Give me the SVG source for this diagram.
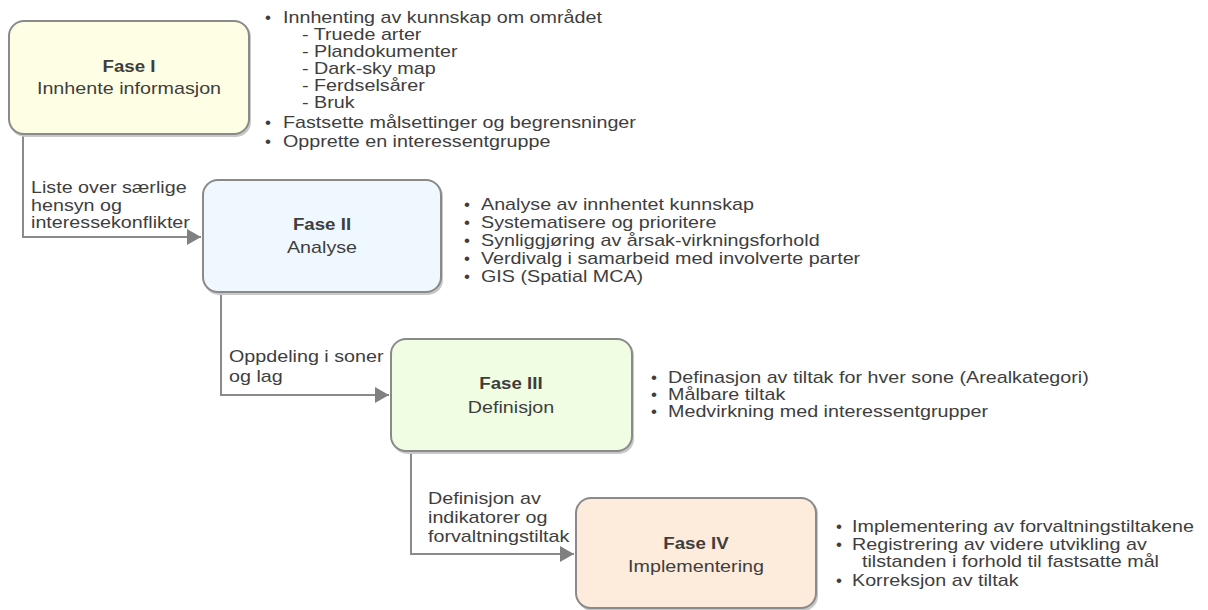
<svg xmlns="http://www.w3.org/2000/svg" width="1208" height="610" viewBox="0 0 1208 610">
<defs>
<marker id="ah" viewBox="0 0 14 16" refX="14" refY="8" markerWidth="14" markerHeight="16" markerUnits="userSpaceOnUse" orient="auto">
<path d="M0,0 L14,8 L0,16 Z" fill="#808080"/>
</marker>
</defs>
<style>
text{font-family:"Liberation Sans",Arial,sans-serif;font-size:17px;fill:#3e3e3e}
.t{text-anchor:middle}
.b{font-weight:bold}
.box{stroke:#8a8a8a;stroke-width:2}
.sh{fill:#c8c8c8}
.con{fill:none;stroke:#8a8a8a;stroke-width:2}
</style>
<rect width="1208" height="610" fill="#ffffff"/>
<g id="connectors">
<path class="con" d="M23,136 V237 H201" marker-end="url(#ah)"/>
<path class="con" d="M221,294 V395 H389" marker-end="url(#ah)"/>
<path class="con" d="M411,453 V554 H574" marker-end="url(#ah)"/>
<text transform="translate(31,193) scale(1.16,1)">Liste over særlige</text>
<text transform="translate(31,211) scale(1.16,1)">hensyn og</text>
<text transform="translate(31,228) scale(1.16,1)">interessekonflikter</text>
<text transform="translate(229,362) scale(1.16,1)">Oppdeling i soner</text>
<text transform="translate(229,382) scale(1.16,1)">og lag</text>
<text transform="translate(428,504) scale(1.16,1)">Definisjon av</text>
<text transform="translate(428,523) scale(1.16,1)">indikatorer og</text>
<text transform="translate(428,542) scale(1.16,1)">forvaltningstiltak</text>
</g>
<g id="fase1">
<rect class="sh" x="10" y="22" width="241" height="115" rx="15"/>
<rect class="box" x="9" y="21" width="240" height="113" rx="15" fill="#fefee4"/>
<text class="t b" transform="translate(129,72) scale(1.1,1)">Fase I</text>
<text class="t" transform="translate(129,94) scale(1.16,1)">Innhente informasjon</text>
</g>
<g id="fase1-notes">
<text x="265" y="23">•</text>
<text transform="translate(283,23) scale(1.16,1)">Innhenting av kunnskap om området</text>
<text transform="translate(302,40) scale(1.16,1)">- Truede arter</text>
<text transform="translate(302,57) scale(1.16,1)">- Plandokumenter</text>
<text transform="translate(302,74) scale(1.16,1)">- Dark-sky map</text>
<text transform="translate(302,91) scale(1.16,1)">- Ferdselsårer</text>
<text transform="translate(302,108) scale(1.16,1)">- Bruk</text>
<text x="265" y="128">•</text>
<text transform="translate(283,128) scale(1.16,1)">Fastsette målsettinger og begrensninger</text>
<text x="265" y="147">•</text>
<text transform="translate(283,147) scale(1.16,1)">Opprette en interessentgruppe</text>
</g>
<g id="fase2">
<rect class="sh" x="204" y="181" width="239" height="114" rx="15"/>
<rect class="box" x="203" y="180" width="238" height="112" rx="15" fill="#f0f8ff"/>
<text class="t b" transform="translate(322,230) scale(1.1,1)">Fase II</text>
<text class="t" transform="translate(322,253) scale(1.16,1)">Analyse</text>
</g>
<g id="fase2-notes">
<text x="464" y="210">•</text>
<text transform="translate(481,210) scale(1.16,1)">Analyse av innhentet kunnskap</text>
<text x="464" y="228">•</text>
<text transform="translate(481,228) scale(1.16,1)">Systematisere og prioritere</text>
<text x="464" y="246">•</text>
<text transform="translate(481,246) scale(1.16,1)">Synliggjøring av årsak-virkningsforhold</text>
<text x="464" y="264">•</text>
<text transform="translate(481,264) scale(1.16,1)">Verdivalg i samarbeid med involverte parter</text>
<text x="464" y="282">•</text>
<text transform="translate(481,282) scale(1.16,1)">GIS (Spatial MCA)</text>
</g>
<g id="fase3">
<rect class="sh" x="392" y="340" width="242" height="114" rx="15"/>
<rect class="box" x="391" y="339" width="241" height="112" rx="15" fill="#f0fde2"/>
<text class="t b" transform="translate(511,389) scale(1.1,1)">Fase III</text>
<text class="t" transform="translate(511,413) scale(1.16,1)">Definisjon</text>
</g>
<g id="fase3-notes">
<text x="651" y="383">•</text>
<text transform="translate(668,383) scale(1.16,1)">Definasjon av tiltak for hver sone (Arealkategori)</text>
<text x="651" y="400">•</text>
<text transform="translate(668,400) scale(1.16,1)">Målbare tiltak</text>
<text x="651" y="417">•</text>
<text transform="translate(668,417) scale(1.16,1)">Medvirkning med interessentgrupper</text>
</g>
<g id="fase4">
<rect class="sh" x="577" y="499" width="241" height="112" rx="15"/>
<rect class="box" x="576" y="498" width="240" height="110" rx="15" fill="#fdebdc"/>
<text class="t b" transform="translate(696,549) scale(1.1,1)">Fase IV</text>
<text class="t" transform="translate(696,572) scale(1.16,1)">Implementering</text>
</g>
<g id="fase4-notes">
<text x="836" y="532">•</text>
<text transform="translate(852,532) scale(1.16,1)">Implementering av forvaltningstiltakene</text>
<text x="836" y="550">•</text>
<text transform="translate(852,550) scale(1.16,1)">Registrering av videre utvikling av</text>
<text transform="translate(862,567) scale(1.16,1)">tilstanden i forhold til fastsatte mål</text>
<text x="836" y="586">•</text>
<text transform="translate(852,586) scale(1.16,1)">Korreksjon av tiltak</text>
</g>
</svg>
